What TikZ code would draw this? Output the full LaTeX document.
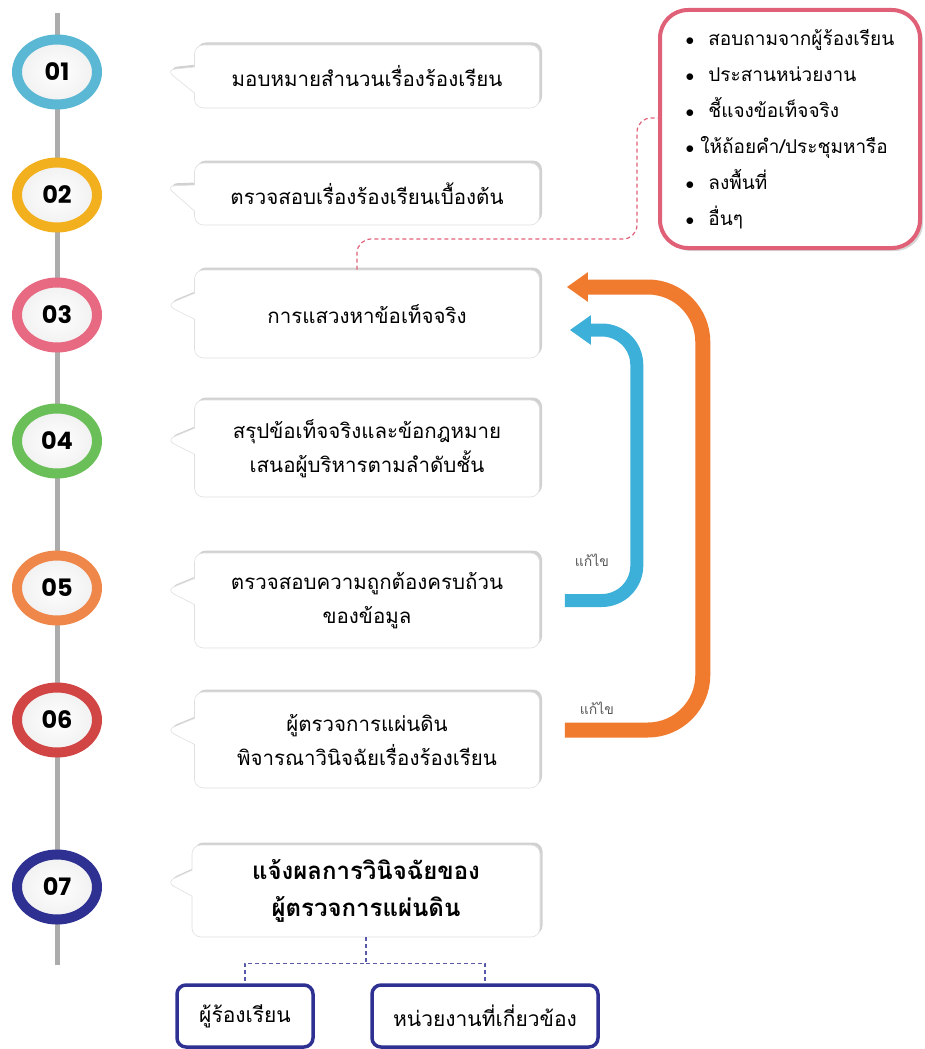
\documentclass[tikz,border=0pt]{standalone}
\usepackage{fontspec}
\usepackage{tikz}
\usetikzlibrary{arrows.meta,shapes.geometric,shapes.callouts,shadows}
\newfontfamily\thaifont[Script=Thai]{Loma}
\newfontfamily\numfont{Poppins}
\definecolor{c01}{HTML}{5BB8D4}
\definecolor{c02}{HTML}{F2B01E}
\definecolor{c03}{HTML}{E86A82}
\definecolor{c04}{HTML}{6BBF59}
\definecolor{c05}{HTML}{F0874A}
\definecolor{c06}{HTML}{D24545}
\definecolor{c07}{HTML}{2E3192}
\definecolor{cyanarr}{HTML}{3DB0DA}
\definecolor{orangearr}{HTML}{F07A2E}
\definecolor{pinkline}{HTML}{E06078}
\tikzset{
  spine/.style={line width=5pt, draw=gray!65},
  stepring/.style={ellipse, draw=#1, line width=10pt, minimum width=80pt, minimum height=65pt,
    inner color=white, outer color=gray!12, font=\numfont\bfseries\fontsize{24}{24}\selectfont},
  bubble/.style={rectangle callout, rounded corners=9pt, fill=white, draw=gray!25, line width=0.6pt,
    minimum width=345pt, callout pointer width=26pt, align=center,
    font=\thaifont\fontsize{20.5}{34}\selectfont,
    drop shadow={shadow xshift=2.5pt, shadow yshift=2.5pt, opacity=.45, fill=gray!80}},
  infobox/.style={rectangle, rounded corners=28pt, draw=pinkline, line width=4pt, fill=white,
    minimum width=260pt, minimum height=238pt, align=left,
    font=\thaifont\fontsize{19}{36}\selectfont,
    drop shadow={shadow xshift=3pt, shadow yshift=-3pt, opacity=.4, fill=gray!80}},
  target/.style={rectangle, rounded corners=9pt, draw=c07, line width=3.5pt, fill=white,
    minimum height=62pt, font=\thaifont\fontsize{21}{24}\selectfont},
  backline/.style={line width=#1, -{Triangle[length=21pt,width=28pt]}},
  fixlabel/.style={font=\thaifont\fontsize{14}{16}\selectfont, text=gray!70!black},
  linkline/.style={draw=pinkline, line width=1.2pt, dash pattern=on 4pt off 3pt, rounded corners=14pt},
  treeline/.style={draw=c07!80, line width=1.2pt, dash pattern=on 4pt off 3pt}
}

\begin{document}
\begin{tikzpicture}[x=1pt,y=-1pt]
\useasboundingbox (0,0) rectangle (925,1049);
\coordinate (spine-top) at (57,13);
\coordinate (spine-end) at (57,965);
\draw[spine] (spine-top) -- (spine-end);

\node[stepring=c01] (s01) at (57,72)  {01};
\node[stepring=c02] (s02) at (57,195) {02};
\node[stepring=c03] (s03) at (57,315) {03};
\node[stepring=c04] (s04) at (57,441) {04};
\node[stepring=c05] (s05) at (57,588) {05};
\node[stepring=c06] (s06) at (57,720) {06};
\node[stepring=c07] (s07) at (57,887) {07};

\node[bubble, minimum height=63pt, callout absolute pointer={(166,70)}] (b01) at (367,76.5) {มอบหมายสำนวนเรื่องร้องเรียน};
\node[bubble, minimum height=62pt, callout absolute pointer={(166,186)}] (b02) at (367,194) {ตรวจสอบเรื่องร้องเรียนเบื้องต้น};
\node[bubble, minimum height=88pt, callout absolute pointer={(166,305)}] (b03) at (367,314) {การแสวงหาข้อเท็จจริง};
\node[bubble, minimum height=97pt, callout absolute pointer={(166,440)}] (b04) at (367,448.5) {สรุปข้อเท็จจริงและข้อกฎหมาย\\เสนอผู้บริหารตามลำดับชั้น};
\node[bubble, minimum height=95pt, callout absolute pointer={(166,590)}] (b05) at (367,600.5) {ตรวจสอบความถูกต้องครบถ้วน\\ของข้อมูล};
\node[bubble, minimum height=96pt, callout absolute pointer={(166,730)}] (b06) at (367,740) {ผู้ตรวจการแผ่นดิน\\พิจารณาวินิจฉัยเรื่องร้องเรียน};
\node[bubble, minimum height=92pt, minimum width=348pt, callout absolute pointer={(166,882)},
  font=\thaifont\bfseries\fontsize{24}{37}\selectfont] (b07) at (366,891) {แจ้งผลการวินิจฉัยของ\\ผู้ตรวจการแผ่นดิน};

\node[infobox] (info) at (790,129) {$\bullet$\hspace{14pt}สอบถามจากผู้ร้องเรียน\\
$\bullet$\hspace{14pt}ประสานหน่วยงาน\\
$\bullet$\hspace{14pt}ชี้แจงข้อเท็จจริง\\
$\bullet$\hspace{6pt}ให้ถ้อยคำ/ประชุมหารือ\\
$\bullet$\hspace{14pt}ลงพื้นที่\\
$\bullet$\hspace{14pt}อื่นๆ};

\coordinate (link-bend) at (637,239);
\draw[linkline] ([xshift=-10pt]b03.north) |- (link-bend) |- ([yshift=11pt]info.west);

\draw[backline=13pt, draw=cyanarr, rounded corners=35pt] ([xshift=25pt]b05.east) -| ([xshift=97pt,yshift=-16pt]b03.east) -- ([xshift=30pt,yshift=-16pt]b03.east);
\draw[backline=15pt, draw=orangearr, rounded corners=55pt] ([xshift=25pt,yshift=10pt]b06.east) -| ([xshift=163pt,yshift=27pt]b03.east) -- ([xshift=27pt,yshift=27pt]b03.east);
\node[fixlabel] (fix-1) at (592,560) {แก้ไข};
\node[fixlabel] (fix-2) at (597,708) {แก้ไข};

\node[target, minimum width=136pt] (rcv-1) at (245,1016) {ผู้ร้องเรียน};
\node[target, minimum width=226pt] (rcv-2) at (485,1016) {หน่วยงานที่เกี่ยวข้อง};
\draw[treeline] (b07.south) -- ++(0,26) -| (rcv-1.north);
\draw[treeline] (b07.south) ++(0,26) -| (rcv-2.north);
\end{tikzpicture}
\end{document}
